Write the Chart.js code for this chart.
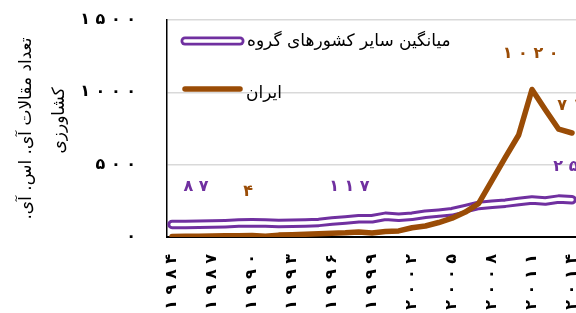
<!DOCTYPE html>
<html>
<head>
<meta charset="utf-8">
<script src="https://cdn.jsdelivr.net/npm/chart.js@4.4.0/dist/chart.umd.min.js"></script>
<style>
  html, body { margin: 0; padding: 0; background: #fff; overflow: hidden; }
  canvas { display: block; }
</style>
</head>
<body>
<canvas id="chart" width="576" height="313"></canvas>
<script>
// data
const years = [1984, 1985, 1986, 1987, 1988, 1989, 1990, 1991, 1992, 1993, 1994,
  1995, 1996, 1997, 1998, 1999, 2000, 2001, 2002, 2003, 2004,
  2005, 2006, 2007, 2008, 2009, 2010, 2011, 2012, 2013, 2014];
const othersAvg = [87, 86, 88, 89, 92, 96, 98, 97, 94, 95, 97,
  101, 110, 117, 126, 126, 143, 136, 143, 157, 165,
  175, 196, 218, 226, 234, 245, 256, 249, 262, 258];
const iran = [4, 5, 6, 7, 9, 8, 11, 6, 13, 16, 19,
  22, 26, 29, 35, 28, 38, 42, 64, 76, 100,
  130, 172, 232, 392, 550, 705, 1020, 880, 745, 719];
const xTickYears = [1984, 1987, 1990, 1993, 1996, 1999, 2002, 2005, 2008, 2011, 2014];
const yTicks = [0, 500, 1000, 1500];
const seriesNames = ['میانگین سایر کشورهای گروه', 'ایران'];
// RLM keeps the final dot on the right-to-left side; leading nbsp nudges line 2 up
const yTitle = ['تعداد مقالات آی. اس. آی.\u200F', '\u00A0\u00A0\u00A0کشاورزی'];

const purple = '#7030a0';
const brown = '#9a4c06';
const font = '"DejaVu Sans", sans-serif';

// which values get a label, and where (year, value) the label sits
const valueLabels = [
  { data: othersAvg, i: 0, color: purple, at: [1985.8, 350], align: 'center' },
  { data: iran, i: 0, color: brown, at: [1989.7, 310], align: 'center' },
  { data: othersAvg, i: 13, color: purple, at: [1997.3, 350], align: 'center' },
  { data: iran, i: 27, color: brown, at: [2010.9, 1263], align: 'center' },
  { data: iran, i: 30, color: brown, at: [2012.9, 906], align: 'left' },
  { data: othersAvg, i: 30, color: purple, at: [2012.6, 484], align: 'left' }
];

const faDigits = '۰۱۲۳۴۵۶۷۸۹';
function toFa(n) {
  return String(n).replace(/\d/g, (d) => faDigits[d]);
}
function spaced(s) {
  return s.split('').join(' ');
}

const points = (arr) => years.map((yr, i) => ({ x: yr, y: arr[i] }));

const extras = {
  id: 'extras',
  afterDatasetsDraw(chart) {
    const { ctx, scales: { x, y }, chartArea } = chart;
    ctx.save();

    // data labels
    ctx.font = 'bold 16px ' + font;
    ctx.textBaseline = 'middle';
    valueLabels.forEach((l) => {
      ctx.fillStyle = l.color;
      ctx.textAlign = l.align;
      ctx.fillText(spaced(toFa(l.data[l.i])), x.getPixelForValue(l.at[0]), y.getPixelForValue(l.at[1]));
    });

    // legend inside the plot
    const lx = chartArea.left + 18;
    const rows = [chartArea.top + 21, chartArea.top + 69];
    ctx.lineCap = 'round';
    ctx.beginPath();
    ctx.moveTo(lx, rows[0]);
    ctx.lineTo(lx + 55, rows[0]);
    ctx.strokeStyle = purple;
    ctx.lineWidth = 9;
    ctx.stroke();
    ctx.strokeStyle = '#fff';
    ctx.lineWidth = 3.5;
    ctx.stroke();
    ctx.beginPath();
    ctx.moveTo(lx, rows[1]);
    ctx.lineTo(lx + 55, rows[1]);
    ctx.strokeStyle = brown;
    ctx.lineWidth = 5.5;
    ctx.stroke();

    ctx.font = '17px ' + font;
    ctx.fillStyle = '#000';
    ctx.textAlign = 'left';
    ctx.fillText(seriesNames[0], lx + 62, rows[0] + 1);
    ctx.fillText(seriesNames[1], lx + 61, rows[1] + 5);
    ctx.restore();
  }
};

new Chart(document.getElementById('chart'), {
  type: 'line',
  data: {
    datasets: [
      { label: seriesNames[1], data: points(iran), borderColor: brown, borderWidth: 5.5, order: 0 },
      { label: '', data: points(othersAvg), borderColor: '#fff', borderWidth: 3.5, order: 1 },
      { label: seriesNames[0], data: points(othersAvg), borderColor: purple, borderWidth: 9.5, order: 2 }
    ]
  },
  options: {
    responsive: false,
    animation: false,
    layout: { padding: 0 },
    elements: {
      point: { radius: 0 },
      line: { tension: 0, borderCapStyle: 'round', borderJoinStyle: 'round' }
    },
    plugins: { legend: { display: false }, tooltip: { enabled: false } },
    scales: {
      x: {
        type: 'linear',
        min: 1983.62,
        max: 2014.3,
        grid: { display: false, drawTicks: false },
        border: { color: '#000', width: 2 },
        afterBuildTicks: (s) => { s.ticks = xTickYears.map((v) => ({ value: v })); },
        afterFit: (s) => { s.height = 76; s.paddingLeft = 0; s.paddingRight = 0; },
        ticks: {
          autoSkip: false,
          minRotation: 90,
          maxRotation: 90,
          padding: 17,
          color: '#000',
          font: { family: font, size: 16, weight: 'bold' },
          callback: (v) => spaced(toFa(v))
        }
      },
      y: {
        min: 0,
        max: 1500,
        grid: { color: '#d9d9d9', lineWidth: 1.5, drawTicks: false },
        border: { color: '#000', width: 1.5 },
        afterBuildTicks: (s) => { s.ticks = yTicks.map((v) => ({ value: v })); },
        afterFit: (s) => { s.width = 167; s.paddingTop = 20; s.paddingBottom = 0; },
        ticks: {
          padding: 31,
          color: '#000',
          font: { family: font, size: 16, weight: 'bold' },
          callback: (v) => spaced(toFa(v))
        },
        title: {
          display: true,
          text: yTitle,
          color: '#000',
          padding: { top: 10, bottom: 0 },
          font: { family: font, size: 17, lineHeight: 1.95 }
        }
      }
    }
  },
  plugins: [extras]
});
</script>
</body>
</html>
